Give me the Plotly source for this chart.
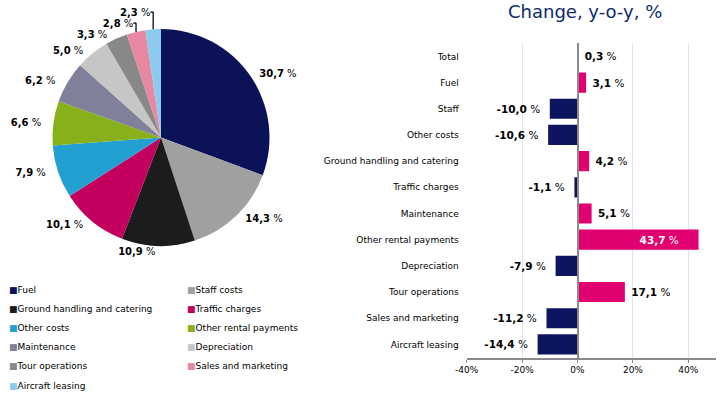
import plotly.graph_objects as go

# ---- Pie data (cost structure) ----
pie_labels = ["Fuel", "Staff costs", "Ground handling and catering", "Traffic charges",
              "Other costs", "Other rental payments", "Maintenance", "Depreciation",
              "Tour operations", "Sales and marketing", "Aircraft leasing"]
pie_values = [30.7, 14.3, 10.9, 10.1, 7.9, 6.6, 6.2, 5.0, 3.3, 2.8, 2.3]
pie_colors = ["#0b1257", "#a0a0a0", "#1c1c1c", "#c4005e", "#22a0d2", "#88b01a",
              "#80809a", "#c6c6c6", "#888888", "#e688a2", "#8ccbee"]

# ---- Bar data (change y-o-y, %) ----
bar_categories = ["Total", "Fuel", "Staff", "Other costs", "Ground handling and catering",
                  "Traffic charges", "Maintenance", "Other rental payments", "Depreciation",
                  "Tour operations", "Sales and marketing", "Aircraft leasing"]
bar_values = [0.3, 3.1, -10.0, -10.6, 4.2, -1.1, 5.1, 43.7, -7.9, 17.1, -11.2, -14.4]
x_tick_vals = [-40, -20, 0, 20, 40]
x_tick_text = ["-40%", "-20%", "0%", "20%", "40%"]

POS = "#e0006f"
NEG = "#0e1560"
FONT = "DejaVu Sans"
W, H = 721, 394
ML, MR, MT, MB = 0, 0, 0, 0
PW, PH = W - ML - MR, H - MT - MB
NB = "\u00a0"

# label padding (style only): >0 leading spaces, <0 trailing spaces
pie_label_pad = [2, 2, 0, -2, -3, -3, -3, -2, -2, 0, 0]


def px_x(px):
    return (px - ML) / PW


def px_y(py):
    return 1 - (py - MT) / PH


fig = go.Figure()

# Pie
pie_templates = []
for p in pie_label_pad:
    core = "<b>%{value:.1f}</b> %"
    pie_templates.append(NB * p + core if p > 0 else core + NB * (-p))

cx, cy, r = 161, 137.5, 108.5
fig.add_trace(go.Pie(
    labels=pie_labels, values=pie_values, sort=False, direction="clockwise",
    rotation=0,
    marker=dict(colors=pie_colors, line=dict(width=0)),
    texttemplate=pie_templates, textposition="outside",
    textfont=dict(family=FONT, size=10, color="#000000"),
    domain=dict(x=[px_x(cx - r), px_x(cx + r)], y=[px_y(cy + r), px_y(cy - r)]),
    showlegend=False, hoverinfo="label+value",
))

# Bars
bar_colors = [POS if v >= 0 else NEG for v in bar_values]
positions = ["inside" if v > 40 else "outside" for v in bar_values]
text_colors = ["#ffffff" if v > 40 else "#000000" for v in bar_values]
templates = []
for v in bar_values:
    if v > 40:
        templates.append("<b>%{x:.1f}</b> %" + NB * 5)
    elif v >= 0:
        templates.append(NB + "<b>%{x:.1f}</b> %")
    else:
        templates.append("<b>%{x:.1f}</b> %" + NB * 2)
fig.add_trace(go.Bar(
    y=bar_categories, x=bar_values, orientation="h",
    marker=dict(color=bar_colors, line=dict(width=0)),
    texttemplate=templates, textposition=positions,
    insidetextanchor="end", constraintext="none", cliponaxis=False,
    textfont=dict(family=FONT, size=10.5, color=text_colors),
    showlegend=False, xaxis="x", yaxis="y",
))

# Legend (manual, two columns)
annotations = []
for i, (lab, col) in enumerate(zip(pie_labels, pie_colors)):
    colx = 7 if i % 2 == 0 else 185
    rowy = 289.5 + 19.2 * (i // 2)
    annotations.append(dict(
        x=px_x(colx), y=px_y(rowy), xref="paper", yref="paper",
        xanchor="left", yanchor="middle", showarrow=False,
        text=f"<span style='color:{col}'>■</span>{lab}",
        font=dict(family=FONT, size=9, color="#000000"),
    ))

annotations.append(dict(
    x=px_x(585), y=px_y(12), xref="paper", yref="paper",
    xanchor="center", yanchor="middle", showarrow=False,
    text="Change, y-o-y, %", font=dict(family=FONT, size=18, color="#0d2a6e"),
))

fig.update_layout(
    template="none",
    width=W, height=H,
    margin=dict(l=ML, r=MR, t=MT, b=MB, autoexpand=False),
    paper_bgcolor="white", plot_bgcolor="white",
    separators=", ",
    font=dict(family=FONT, size=9, color="#000000"),
    bargap=0.23,
    annotations=annotations,
    xaxis=dict(
        domain=[px_x(466.7), px_x(716)], range=[-40, 50],
        tickvals=x_tick_vals, ticktext=x_tick_text,
        showgrid=True, gridcolor="#e4e4e4", gridwidth=1,
        zeroline=True, zerolinecolor="#8a8a8a", zerolinewidth=2,
        showline=True, linecolor="#8a8a8a", linewidth=2,
        ticks="outside", ticklen=3, tickcolor="#8a8a8a",
        tickfont=dict(family=FONT, size=9, color="#000000"),
        fixedrange=True, automargin=False,
    ),
    yaxis=dict(
        domain=[px_y(357.5), px_y(43.3)], autorange="reversed",
        showgrid=False, zeroline=False, showline=False, ticks="",
        ticklabelstandoff=7,
        tickfont=dict(family=FONT, size=9, color="#000000"),
        fixedrange=True, automargin=False,
    ),
)
try:
    fig.update_layout(xaxis_zerolinelayer="above traces")
except Exception:
    pass

fig.write_html(
    "out.html",
    config={"displayModeBar": False, "staticPlot": True},
    post_script="document.body.style.margin='0';document.body.style.overflow='hidden';",
)
